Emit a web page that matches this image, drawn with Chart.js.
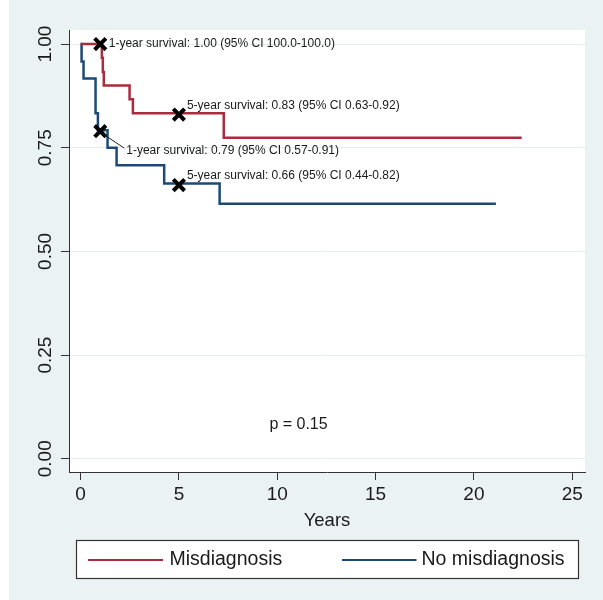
<!DOCTYPE html>
<html><head><meta charset="utf-8">
<script src="https://cdn.jsdelivr.net/npm/chart.js@4.4.1/dist/chart.umd.min.js"></script>
<style>html,body{margin:0;padding:0;background:#fff;}#wrap{width:603px;height:600px;position:relative;}</style>
</head><body>
<div id="wrap"><canvas id="c" width="603" height="600"></canvas></div>
<script>
// ---- data ----
const seriesNames = ['Misdiagnosis', 'No misdiagnosis'];
const redTimes = [0, 1.08, 1.13, 1.18, 2.49, 2.66, 7.28, 22.43];
const redSurv  = [1, 0.967, 0.933, 0.900, 0.867, 0.833, 0.774, 0.774];
const blueTimes = [0, 0.05, 0.15, 0.76, 0.88, 1.37, 1.83, 4.25, 7.07, 21.12];
const blueSurv  = [1, 0.958, 0.917, 0.833, 0.792, 0.750, 0.708, 0.664, 0.615, 0.615];
const markX = [1, 5, 1, 5];
const markY = [1.00, 0.83, 0.79, 0.66];
const annText = [
  '1-year survival: 1.00 (95% CI 100.0-100.0)',
  '5-year survival: 0.83 (95% CI 0.63-0.92)',
  '1-year survival: 0.79 (95% CI 0.57-0.91)',
  '5-year survival: 0.66 (95% CI 0.44-0.82)'
];
const pText = 'p = 0.15';
const pX = 9.6, pY = 0.083;
const xTickValues = [0, 5, 10, 15, 20, 25];
const yTickValues = [0, 0.25, 0.5, 0.75, 1];
const yTickLabels = ['0.00', '0.25', '0.50', '0.75', '1.00'];
const xTitle = 'Years';

// ---- style ----
const FONT = "'Liberation Sans', Arial, Helvetica, sans-serif";
const RED = '#ab2b3e', BLUE = '#1d4a75', INK = '#1a1a1a';
const annDx = [8.5, 8, 26, 8];
const annDy = [0, -8.5, 20, -9];
const annLeader = [false, false, true, false];

const toPts = (xs, ys) => xs.map((x, i) => ({x: x, y: ys[i]}));

const bgPlugin = {
  id: 'bg',
  beforeDraw(chart) {
    const {ctx, chartArea: a, width, height} = chart;
    ctx.save();
    ctx.fillStyle = '#eaf2f3';
    ctx.fillRect(0, 0, width, height);
    ctx.fillStyle = '#ffffff';
    ctx.fillRect(0, 0, 9, height);
    ctx.fillRect(a.left, a.top, a.right - a.left, a.bottom - a.top);
    ctx.restore();
  }
};

const extrasPlugin = {
  id: 'extras',
  afterDraw(chart) {
    const {ctx} = chart;
    const xs = chart.scales.x, ys = chart.scales.y;
    ctx.save();
    // y tick labels (rotated)
    ctx.fillStyle = INK;
    ctx.font = '19px ' + FONT;
    ctx.textAlign = 'center';
    ctx.textBaseline = 'middle';
    yTickValues.forEach((v, i) => {
      const py = ys.getPixelForValue(v);
      ctx.save();
      ctx.translate(46, py);
      ctx.rotate(-Math.PI / 2);
      ctx.fillText(yTickLabels[i], 0, 0);
      ctx.restore();
    });
    // annotations
    ctx.font = '12px ' + FONT;
    ctx.textAlign = 'left';
    ctx.textBaseline = 'middle';
    annText.forEach((t, i) => {
      const mx = xs.getPixelForValue(markX[i]);
      const my = ys.getPixelForValue(markY[i]);
      const tx = mx + annDx[i], ty = my + annDy[i];
      if (annLeader[i]) {
        ctx.strokeStyle = '#222';
        ctx.lineWidth = 1;
        ctx.beginPath();
        ctx.moveTo(mx + 3, my + 3);
        ctx.lineTo(tx - 2, ty - 3);
        ctx.stroke();
      }
      ctx.fillStyle = INK;
      ctx.fillText(t, tx, ty);
    });
    // p value
    ctx.font = '16px ' + FONT;
    ctx.fillText(pText, xs.getPixelForValue(pX), ys.getPixelForValue(pY));
    // legend
    const bx = 76, by = 540, bw = 502, bh = 38;
    ctx.fillStyle = '#ffffff';
    ctx.fillRect(bx, by, bw, bh);
    ctx.strokeStyle = '#333';
    ctx.lineWidth = 1.2;
    ctx.strokeRect(bx + 0.5, by + 0.5, bw, bh);
    const ly = by + bh / 2;
    const items = [
      {c: RED, x0: 88, x1: 163, tx: 169.5},
      {c: BLUE, x0: 342, x1: 416.5, tx: 421.5}
    ];
    ctx.font = '19.5px ' + FONT;
    ctx.textBaseline = 'middle';
    items.forEach((it, i) => {
      ctx.strokeStyle = it.c;
      ctx.lineWidth = 2.2;
      ctx.beginPath();
      ctx.moveTo(it.x0, ly + 1);
      ctx.lineTo(it.x1, ly + 1);
      ctx.stroke();
      ctx.fillStyle = INK;
      ctx.fillText(seriesNames[i], it.tx, ly + 1);
    });
    ctx.restore();
  }
};

new Chart(document.getElementById('c'), {
  type: 'scatter',
  data: {
    datasets: [
      {
        label: 'markers',
        data: toPts(markX, markY),
        showLine: false,
        pointStyle: 'crossRot',
        pointRadius: 8,
        pointBorderWidth: 4,
        borderColor: '#000',
        backgroundColor: '#000'
      },
      {
        label: seriesNames[0],
        data: toPts(redTimes, redSurv),
        showLine: true,
        stepped: 'before',
        borderColor: RED,
        borderWidth: 2.5,
        pointRadius: 0,
        fill: false
      },
      {
        label: seriesNames[1],
        data: toPts(blueTimes, blueSurv),
        showLine: true,
        stepped: 'before',
        borderColor: BLUE,
        borderWidth: 2.5,
        pointRadius: 0,
        fill: false
      }
    ]
  },
  options: {
    responsive: false,
    animation: false,
    devicePixelRatio: 1,
    layout: {padding: {left: 0, top: 30, right: 18, bottom: 0}},
    plugins: {legend: {display: false}, tooltip: {enabled: false}},
    scales: {
      x: {
        type: 'linear',
        min: -0.59,
        max: 25.65,
        afterBuildTicks: s => { s.ticks = xTickValues.map(v => ({value: v})); },
        afterFit: s => { s.height = 128; },
        border: {display: true, color: '#333', width: 1},
        grid: {drawOnChartArea: false, drawTicks: true, tickLength: 8, tickColor: '#333', tickWidth: 1},
        ticks: {color: INK, font: {family: FONT, size: 19}, padding: 3, maxRotation: 0},
        title: {display: true, text: xTitle, color: INK, font: {family: FONT, size: 18.5}, padding: {top: 0, bottom: 68}}
      },
      y: {
        type: 'linear',
        min: -0.032,
        max: 1.034,
        afterBuildTicks: s => { s.ticks = yTickValues.map(v => ({value: v})); },
        afterFit: s => { s.width = 69; },
        border: {display: true, color: '#333', width: 1},
        grid: {color: '#e3ecee', lineWidth: 1, drawTicks: true, tickLength: 8, tickColor: '#333', tickWidth: 1},
        ticks: {display: false}
      }
    }
  },
  plugins: [bgPlugin, extrasPlugin]
});
</script>
</body></html>
